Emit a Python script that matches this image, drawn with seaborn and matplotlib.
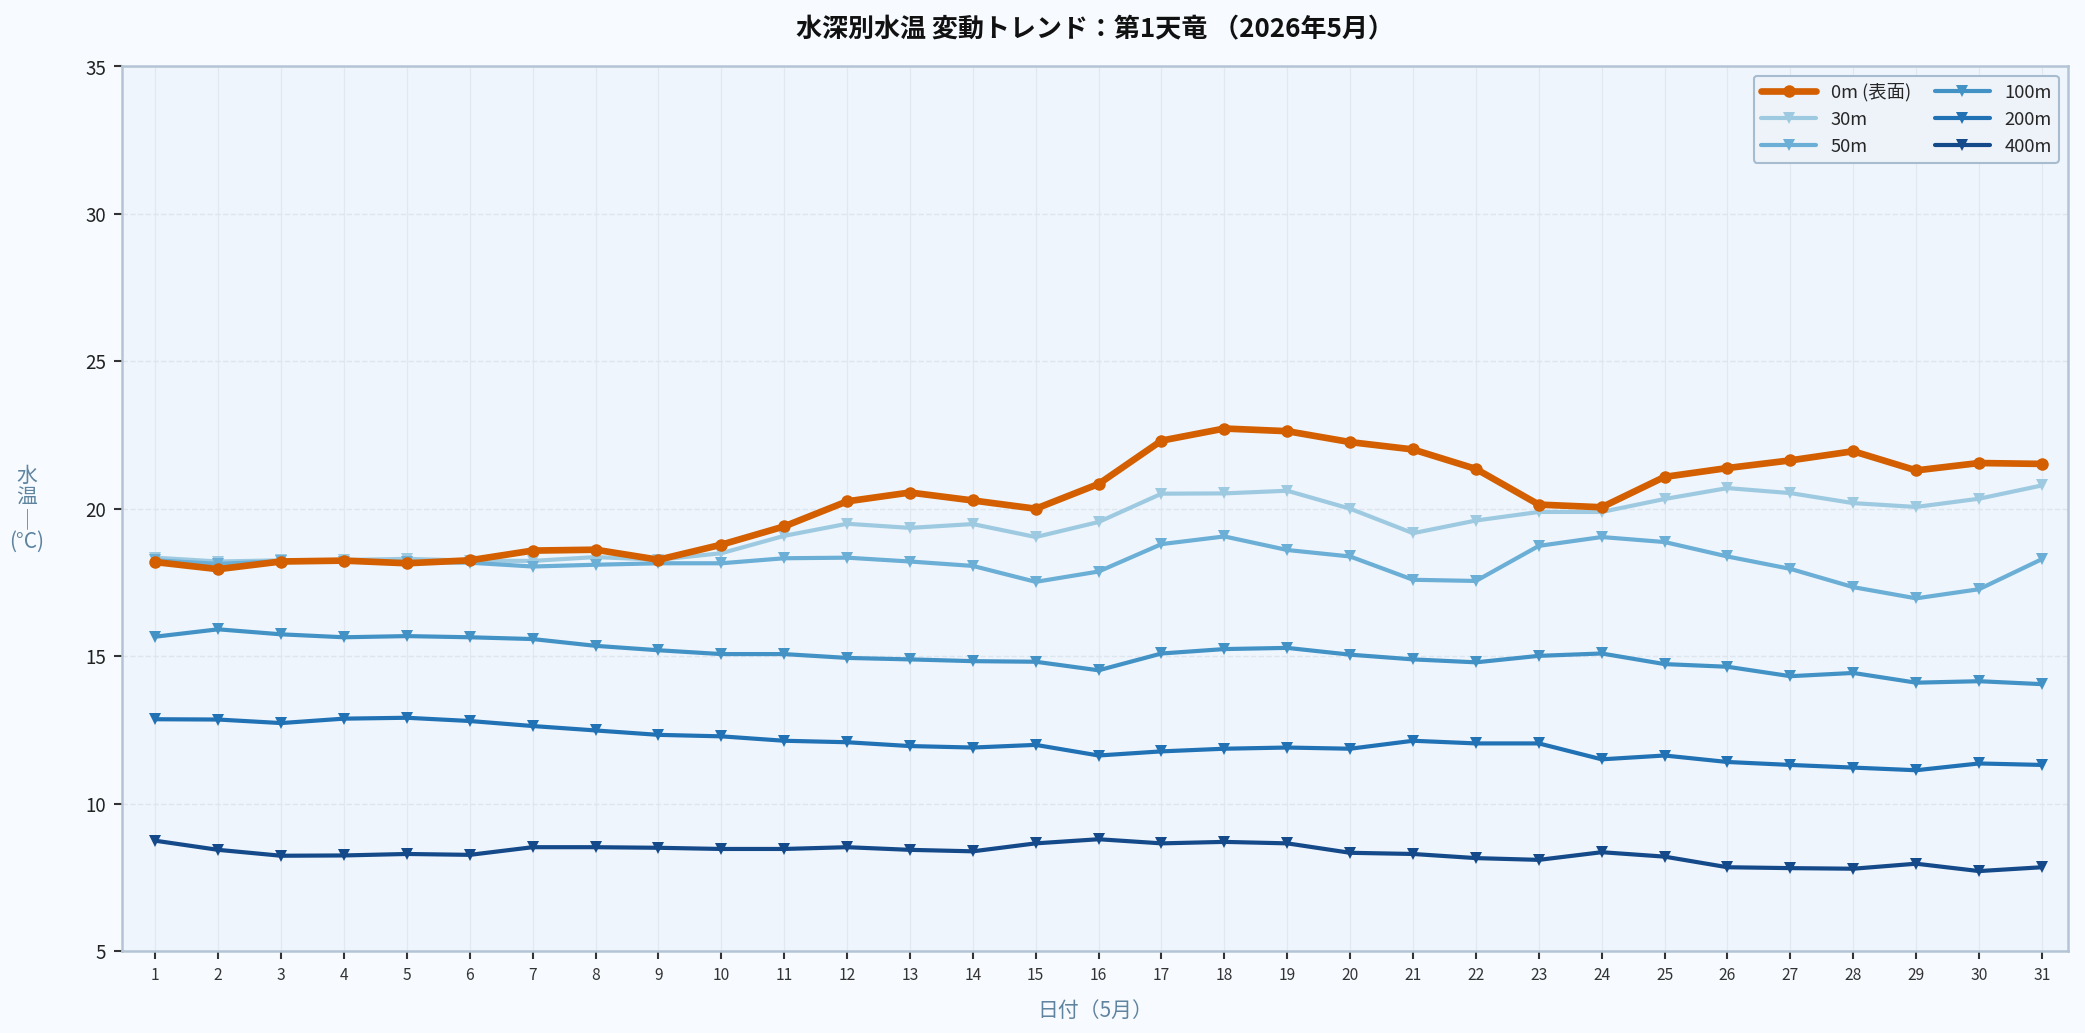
import pandas as pd
import seaborn as sns
import matplotlib.pyplot as plt

# daily water temperature by depth (May 2026)
days = list(range(1, 32))
temp_0m = [18.19, 17.95, 18.21, 18.24, 18.15, 18.25, 18.58, 18.61, 18.27, 18.78,
           19.40, 20.25, 20.55, 20.28, 20.00, 20.84, 22.31, 22.72, 22.63, 22.26,
           22.01, 21.35, 20.14, 20.05, 21.08, 21.38, 21.64, 21.95, 21.30, 21.55, 21.52]
temp_30m = [18.34, 18.21, 18.25, 18.26, 18.30, 18.24, 18.23, 18.36, 18.27, 18.49,
            19.08, 19.49, 19.35, 19.48, 19.04, 19.55, 20.51, 20.52, 20.61, 20.00,
            19.17, 19.60, 19.89, 19.89, 20.33, 20.70, 20.53, 20.19, 20.06, 20.34, 20.79]
temp_50m = [18.25, 18.13, 18.22, 18.20, 18.20, 18.17, 18.04, 18.10, 18.15, 18.15,
            18.32, 18.34, 18.21, 18.06, 17.52, 17.87, 18.80, 19.06, 18.60, 18.38,
            17.59, 17.55, 18.74, 19.04, 18.87, 18.38, 17.96, 17.34, 16.96, 17.27, 18.29]
temp_100m = [15.66, 15.91, 15.74, 15.64, 15.68, 15.64, 15.58, 15.35, 15.20, 15.07,
             15.07, 14.94, 14.89, 14.83, 14.81, 14.52, 15.09, 15.24, 15.28, 15.05,
             14.89, 14.79, 15.01, 15.09, 14.73, 14.64, 14.32, 14.43, 14.10, 14.15, 14.05]
temp_200m = [12.86, 12.85, 12.73, 12.88, 12.91, 12.80, 12.63, 12.48, 12.33, 12.28,
             12.13, 12.08, 11.95, 11.90, 11.99, 11.63, 11.77, 11.86, 11.90, 11.86,
             12.13, 12.04, 12.04, 11.50, 11.63, 11.41, 11.31, 11.22, 11.13, 11.36, 11.31]
temp_400m = [8.74, 8.43, 8.23, 8.24, 8.29, 8.26, 8.52, 8.52, 8.50, 8.46,
             8.46, 8.52, 8.43, 8.38, 8.65, 8.79, 8.65, 8.70, 8.65, 8.33,
             8.29, 8.15, 8.09, 8.35, 8.20, 7.84, 7.81, 7.79, 7.96, 7.71, 7.84]

labels = ['0m (表面)', '30m', '50m', '100m', '200m', '400m']
series = [temp_0m, temp_30m, temp_50m, temp_100m, temp_200m, temp_400m]
colors = ['#d35f00', '#9ecae1', '#6baed6', '#4292c6', '#2171b5', '#154a8a']

sns.set_theme(style='white')
plt.rcParams['font.family'] = ['Noto Sans CJK JP', 'DejaVu Sans']

fig = plt.figure(figsize=(13.9, 6.887), dpi=150, facecolor='#f7fbff')
ax = fig.add_axes([0.0585, 0.0794, 0.9335, 0.8562])
ax.set_facecolor('#eff5fc')

for lab, vals, col in zip(labels, series, colors):
    df = pd.DataFrame({'day': days, 'temp': vals})
    if lab.startswith('0m'):
        sns.lineplot(data=df, x='day', y='temp', ax=ax, color=col, linewidth=3.2,
                     marker='o', markersize=6, markeredgewidth=0, label=lab, zorder=5)
    else:
        sns.lineplot(data=df, x='day', y='temp', ax=ax, color=col, linewidth=2.0,
                     marker='v', markersize=5.5, markeredgewidth=0, label=lab, zorder=3)

ax.set_xlim(0.47, 31.42)
ax.set_ylim(5, 35)
ax.set_xticks(days)
ax.set_yticks(range(5, 36, 5))
ax.tick_params(axis='x', labelsize=7.5, colors='#333333', length=4, width=1)
ax.tick_params(axis='y', labelsize=9, colors='#222222', length=4, width=1)
ax.tick_params(bottom=True, left=True, color='#333333')

ax.grid(axis='x', color='#e1e8f0', linewidth=0.6)
ax.grid(axis='y', color='#dde5ee', linewidth=0.7, linestyle='--')
ax.set_axisbelow(True)
for s in ax.spines.values():
    s.set_color('#b4c4d4')
    s.set_linewidth(1.2)

ax.set_title('水深別水温 変動トレンド：第1天竜 （2026年5月）', fontsize=12.5,
             fontweight='bold', pad=14, color='#111111')
ax.set_xlabel('日付（5月）', fontsize=10, color='#5f84a0', labelpad=8)
ax.set_ylabel('水\n温\n│\n(°C)', fontsize=10, color='#5f84a0', rotation=0,
              labelpad=28, va='center', linespacing=1.0)

ax.legend(loc='upper right', ncol=2, fontsize=8.8, frameon=True,
          facecolor='#eef3fa', edgecolor='#a8bccf', framealpha=1,
          handlelength=3, columnspacing=1.3)

fig.savefig('out.png', dpi=150, facecolor=fig.get_facecolor())
